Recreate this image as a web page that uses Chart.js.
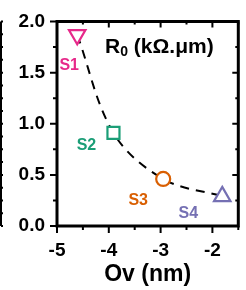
<!DOCTYPE html>
<html>
<head>
<meta charset="utf-8">
<script src="https://cdn.jsdelivr.net/npm/chart.js@4"></script>
<style>
  html, body { margin: 0; padding: 0; overflow: hidden; background: #fff; }
  #wrap { width: 250px; height: 290px; }
</style>
</head>
<body>
<div id="wrap"><canvas id="chart-area" width="250" height="290"></canvas></div>
<script>
"use strict";

// Contact resistance R0 against overlap Ov, one point per sample
const SAMPLES = ["S1", "S2", "S3", "S4"];
const OV_NM = [-4.61, -3.91, -2.95, -1.81];
const R0_KOHM_UM = [1.87, 0.91, 0.46, 0.29];

const X_TICKS = [-5, -4, -3, -2];
const Y_TICKS = [0, 0.5, 1, 1.5, 2];

const COLORS = ["rgb(231, 41, 138)", "rgb(27, 158, 119)", "rgb(217, 95, 2)", "rgb(117, 112, 179)"];
const STYLES = ["triangle", "rect", "circle", "triangle"];
const ROTATIONS = [180, 0, 0, 0];
const RADII = [9.5, 8.5, 7, 9.5];
// where each sample name sits, relative to its point (px)
const LABEL_OFFSETS = [[-8, 31], [-27, 13], [-25, 22], [-34, 17]];

const FONT = "'Liberation Sans', Arial, sans-serif";

const framePlugin = {
  id: "frame",
  beforeDatasetsDraw(chart) {
    const { ctx, chartArea: a, scales } = chart;
    const x = scales.x, y = scales.y;
    ctx.save();
    ctx.strokeStyle = "#000";
    ctx.lineWidth = 2;
    ctx.beginPath();
    // ticks: major and minor, outside on left/bottom, inside on top/right
    for (let v = 0; v <= 2.001; v += 0.25) {
      const py = y.getPixelForValue(v);
      const major = Math.abs(v * 2 - Math.round(v * 2)) < 1e-6;
      ctx.moveTo(a.left, py); ctx.lineTo(a.left - (major ? 7 : 4), py);
      ctx.moveTo(a.right, py); ctx.lineTo(a.right - (major ? 6 : 3), py);
    }
    for (let v = -5; v <= -1.5; v += 0.5) {
      const px = x.getPixelForValue(v);
      const major = Number.isInteger(v);
      ctx.moveTo(px, a.bottom); ctx.lineTo(px, a.bottom + (major ? 7 : 4));
      ctx.moveTo(px, a.top); ctx.lineTo(px, a.top + (major ? 6 : 3));
    }
    ctx.stroke();

    ctx.lineWidth = 3;
    ctx.strokeRect(a.left, a.top, a.right - a.left, a.bottom - a.top);

    // edge of the neighbouring panel
    ctx.lineWidth = 2;
    ctx.beginPath();
    ctx.moveTo(1, a.top); ctx.lineTo(1, a.bottom);
    for (let i = 0; i <= 16; i++) {
      const py = a.top + (a.bottom - a.top) * i / 16;
      ctx.moveTo(1, py); ctx.lineTo(3, py);
    }
    ctx.stroke();
    ctx.restore();
  },
  afterDatasetsDraw(chart) {
    const { ctx, chartArea: a } = chart;
    const meta = chart.getDatasetMeta(0);
    ctx.save();
    ctx.textAlign = "center";
    ctx.textBaseline = "middle";
    ctx.font = "bold 16px " + FONT;
    meta.data.forEach((pt, i) => {
      ctx.fillStyle = COLORS[i];
      ctx.fillText(SAMPLES[i], pt.x + LABEL_OFFSETS[i][0], pt.y + LABEL_OFFSETS[i][1]);
    });

    // panel title R0 (kΩ.μm)
    ctx.fillStyle = "#000";
    ctx.textAlign = "left";
    ctx.textBaseline = "alphabetic";
    let tx = a.left + 48;
    const ty = a.top + 31;
    ctx.font = "bold 21px " + FONT;
    ctx.fillText("R", tx, ty);
    tx += ctx.measureText("R").width;
    ctx.font = "bold 14px " + FONT;
    ctx.fillText("0", tx, ty + 3);
    tx += ctx.measureText("0").width;
    ctx.font = "bold 21px " + FONT;
    ctx.fillText(" (kΩ.μm)", tx, ty);
    ctx.restore();
  }
};

const config = {
  type: "line",
  data: {
    labels: SAMPLES,
    datasets: [
      {
        data: OV_NM.map((v, i) => ({ x: v, y: R0_KOHM_UM[i] })),
        borderColor: "#000",
        borderWidth: 2,
        borderDash: [9, 7],
        tension: 0.35,
        pointStyle: STYLES,
        pointRotation: ROTATIONS,
        pointRadius: RADII,
        pointBorderColor: COLORS,
        pointBackgroundColor: "#fff",
        pointBorderWidth: 2.2
      }
    ]
  },
  options: {
    responsive: false,
    animation: false,
    layout: { padding: { top: 10, right: 0, bottom: 0, left: 0 } },
    plugins: {
      legend: { display: false },
      tooltip: { enabled: false }
    },
    scales: {
      x: {
        type: "linear",
        min: -5,
        max: -1.5,
        grid: { display: false, drawTicks: false },
        border: { display: false },
        afterBuildTicks: s => { s.ticks = X_TICKS.map(v => ({ value: v })); },
        afterFit: s => { s.height = 64; },
        ticks: {
          color: "#000",
          padding: 15,
          maxRotation: 0,
          font: { family: FONT, size: 19, weight: "bold", lineHeight: 1 },
          callback: v => String(v)
        },
        title: {
          display: true,
          text: "Ov (nm)",
          color: "#000",
          font: { family: FONT, size: 23, weight: "bold", lineHeight: 1 },
          padding: { top: 0, bottom: 4 }
        }
      },
      y: {
        type: "linear",
        min: 0,
        max: 2,
        grid: { display: false, drawTicks: false },
        border: { display: false },
        afterBuildTicks: s => { s.ticks = Y_TICKS.map(v => ({ value: v })); },
        afterFit: s => { s.width = 57; },
        ticks: {
          color: "#000",
          padding: 12,
          font: { family: FONT, size: 19, weight: "bold", lineHeight: 1 },
          callback: v => v.toFixed(1)
        }
      }
    }
  },
  plugins: [framePlugin]
};

window.onload = function() {
  const ctx = document.getElementById("chart-area").getContext("2d");
  window.myChart = new Chart(ctx, config);
};
</script>
</body>
</html>
